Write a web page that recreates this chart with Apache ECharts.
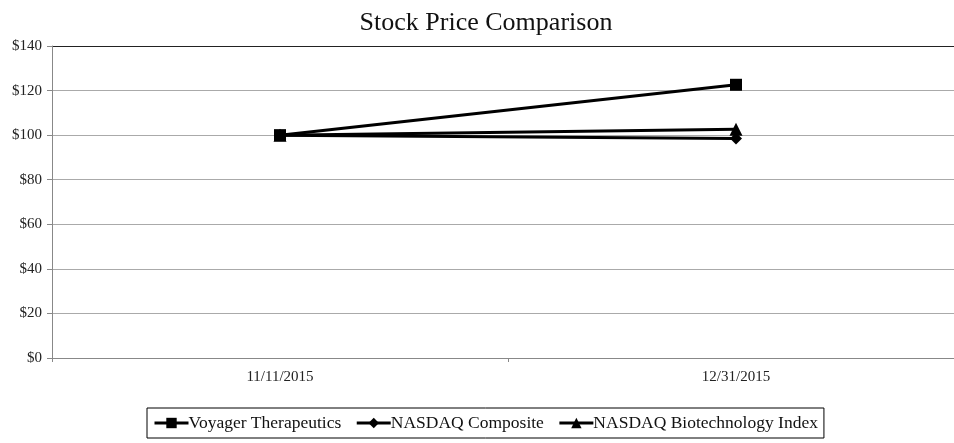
<!DOCTYPE html>
<html>
<head>
<meta charset="utf-8">
<script src="https://cdn.jsdelivr.net/npm/echarts@6/dist/echarts.min.js"></script>
<style>
html, body { margin: 0; padding: 0; background: #fff; overflow: hidden; }
#chart { width: 966px; height: 443px; }
</style>
</head>
<body>
<div id="chart"></div>
<script>
var dates = ['11/11/2015', '12/31/2015'];
var voyager = [100, 122.6];
var composite = [100, 98.5];
var biotech = [100, 102.6];
var yTicks = [0, 20, 40, 60, 80, 100, 120, 140];

var serif = '"Liberation Serif", "DejaVu Serif", serif';

var chart = echarts.init(document.getElementById('chart'));

function line(name, data, symbol, size) {
  return {
    name: name,
    type: 'line',
    data: data,
    symbol: symbol,
    symbolSize: size,
    lineStyle: { color: '#000', width: 3 },
    itemStyle: { color: '#000' },
    animation: false
  };
}

// top gridline is drawn dark like the plot border in the source
var gridColors = yTicks.map(function (v, i) {
  return i === yTicks.length - 1 ? '#222' : '#aaa';
});

// plot area runs past the right edge of the window, as in the source image
chart.setOption({
  title: {
    text: 'Stock Price Comparison',
    left: 481,
    textAlign: 'center',
    top: 5,
    textStyle: { fontFamily: serif, fontSize: 26, fontWeight: 'normal', color: '#111' }
  },
  legend: {
    left: 147,
    top: 408,
    padding: [6, 6, 6, 6],
    itemGap: 14,
    itemWidth: 34,
    itemHeight: 13,
    borderColor: '#000',
    borderWidth: 1,
    lineStyle: { width: 3 },
    textStyle: { fontFamily: serif, fontSize: 17.5, color: '#111', padding: [0, 0, 0, -5] },
    data: ['Voyager Therapeutics', 'NASDAQ Composite', 'NASDAQ Biotechnology Index']
  },
  grid: { left: 52, top: 46, right: 2, height: 312 },
  xAxis: {
    type: 'category',
    data: dates,
    boundaryGap: true,
    axisLine: { lineStyle: { color: '#888', width: 1 } },
    axisTick: { show: true, length: 4, lineStyle: { color: '#888' } },
    axisLabel: { fontFamily: serif, fontSize: 15, color: '#222', margin: 12 }
  },
  yAxis: {
    type: 'value',
    min: yTicks[0],
    max: yTicks[yTicks.length - 1],
    interval: 20,
    axisLine: { show: true, lineStyle: { color: '#888' } },
    axisTick: { show: true, length: 5, lineStyle: { color: '#888' } },
    axisLabel: {
      fontFamily: serif, fontSize: 15, color: '#222', margin: 10,
      formatter: function (v) { return '$' + v; }
    },
    splitLine: { lineStyle: { color: gridColors, width: 1 } }
  },
  series: [
    line('Voyager Therapeutics', voyager, 'rect', 12),
    line('NASDAQ Composite', composite, 'diamond', 12),
    line('NASDAQ Biotechnology Index', biotech, 'triangle', 13)
  ]
});
</script>
</body>
</html>
